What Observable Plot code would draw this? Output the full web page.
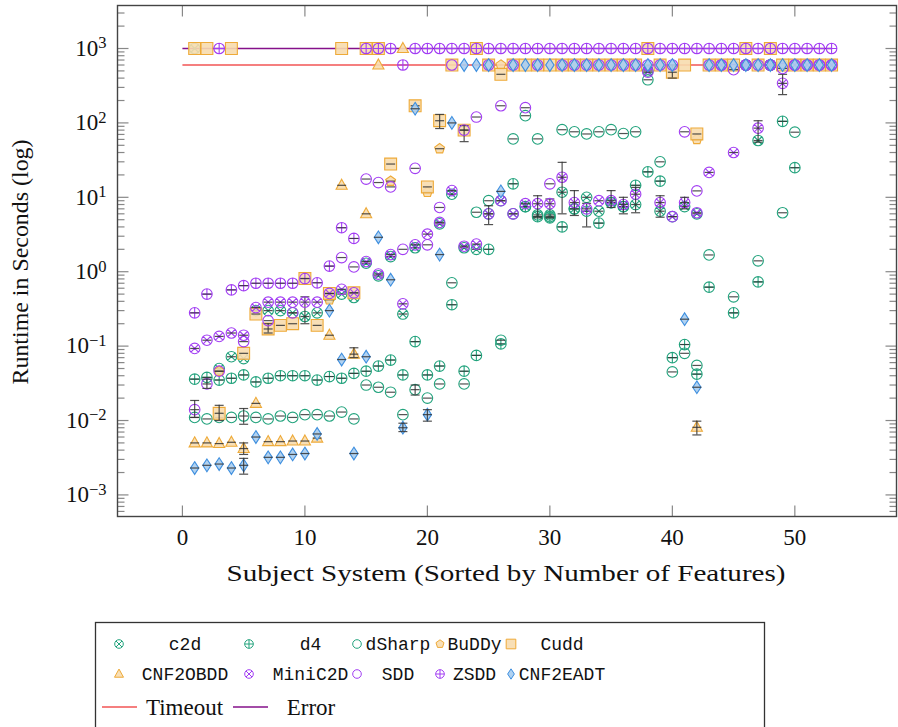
<!DOCTYPE html>
<html><head><meta charset="utf-8">
<script src="https://cdn.jsdelivr.net/npm/d3@7"></script>
<script src="https://cdn.jsdelivr.net/npm/@observablehq/plot@0.6"></script>
<style>
body{margin:0;background:#fff;}
#wrap{position:relative;width:898px;height:727px;overflow:hidden;background:#fff;}
</style></head><body><div id="wrap"></div>
<script>
// ---------------- data ----------------
const systems = [1,2,3,4,5,6,7,8,9,10,11,12,13,14,15,16,17,18,19,20,21,22,23,24,25,26,27,28,29,30,31,32,33,34,35,36,37,38,39,40,41,42,43,44,45,46,47,48,49,50,51,52,53];
const tools = ["c2d","d4","dSharp","BuDDy","Cudd","CNF2OBDD","MiniC2D","SDD","ZSDD","CNF2EADT"];

const c2d = [1000,null,0.05,0.072,0.068,0.30,0.30,0.30,0.28,0.25,
  0.28,0.45,0.50,0.45,1.3,0.88,1.6,0.27,2.1,null,
  4.4,11,2.1,2.0,6.0,9.0,6.0,7.5,5.8,5.8,
  11.7,7.0,10,6.5,8.5,7.5,8.0,500,6.5,5.5,
  7.5,6.0,600,600,600,600,58,600,600,600,
  600,600,600];
const d4 = [0.036,0.038,0.035,0.037,0.041,0.033,0.037,0.040,0.040,0.040,
  0.035,0.039,0.037,0.043,0.046,0.054,0.065,0.041,0.115,0.041,
  0.054,0.36,0.046,0.075,2.0,0.107,15.2,7.5,5.5,5.3,
  4.0,7.0,6.5,4.5,8.5,7.5,14.5,22,16.5,0.07,
  0.105,0.042,0.62,600,0.28,600,0.73,600,105,25,
  600,600,600];
const dSharp = [0.011,0.0105,0.011,0.011,0.0115,0.011,0.0105,0.0115,0.011,0.012,
  0.012,0.0115,0.013,0.0105,0.030,0.028,0.024,0.012,0.026,0.020,
  0.031,0.71,0.031,6.3,9.0,0.12,61,125,61,5.5,
  81,76,71,76,81,72,76,380,30,0.045,
  0.08,0.055,1.68,600,0.46,600,1.4,600,6.2,75,
  600,600,600];
const BuDDy = [null,null,0.046,null,null,null,null,null,null,null,
  null,0.42,null,null,null,null,16.5,null,null,11.7,
  45,null,null,null,null,600,null,null,null,null,
  null,null,null,null,null,null,null,null,null,null,
  null,60,null,null,null,null,null,null,null,null,
  null,null,null];
const Cudd = [1000,1000,0.0125,1000,0.08,0.27,0.17,0.19,0.2,0.81,
  0.19,0.51,1000,0.52,1000,1000,28,null,170,13.8,
  107,600,80,1000,600,450,600,600,600,600,
  600,600,600,600,600,600,600,1000,600,480,
  600,71,600,600,600,1000,600,1000,600,600,
  600,600,600];
const CNF2OBDD = [0.005,0.005,0.0049,0.0051,0.0042,0.017,0.0052,0.0052,0.0053,0.0053,
  0.0058,0.14,14.5,0.078,6.0,600,null,1000,null,null,
  null,null,null,null,null,null,null,null,null,null,
  null,null,null,null,null,null,null,null,null,null,
  null,0.0081,null,null,null,null,null,null,null,null,
  null,null,null];
const MiniC2D = [0.093,0.12,0.135,0.15,0.14,0.33,0.39,0.39,0.39,0.39,
  0.39,0.51,0.58,0.52,1.37,0.93,1.7,0.37,2.3,3.2,
  4.6,12.3,2.2,2.35,6.0,9.0,6.0,8.2,8.2,8.2,
  18.6,8.5,7.0,9.0,9.0,8.0,11.0,480,8.5,5.5,
  8.5,6.2,21.6,600,40,600,85,600,340,600,
  600,600,600];
const SDD = [0.014,0.031,0.046,null,0.115,null,0.22,null,0.28,null,
  null,null,1.55,1.16,17.6,15.8,13.8,2.0,24.5,2.3,
  7.3,600,80,120,600,170,600,160,600,15.2,
  600,600,600,600,600,600,600,600,600,600,
  76,12.2,600,600,520,600,600,600,540,600,
  600,600,600];
const ZSDD = [0.28,0.50,1000,0.57,0.65,0.70,0.70,0.70,0.70,0.81,
  0.71,1.19,3.9,2.8,1000,1000,1000,600,1000,1000,
  1000,1000,1000,1000,1000,1000,1000,1000,1000,1000,
  1000,1000,1000,1000,1000,1000,1000,1000,1000,1000,
  1000,1000,1000,1000,1000,1000,1000,1000,1000,1000,
  1000,1000,1000];
const CNF2EADT = [0.0023,0.0025,0.0026,0.0023,0.0025,0.0060,0.0032,0.0032,0.0035,0.0036,
  0.0066,0.30,0.066,0.0036,0.072,2.9,0.78,0.008,155,0.012,
  1.7,100,600,600,600,12,600,600,600,600,
  600,600,600,600,600,600,600,600,600,600,
  0.23,0.028,600,600,600,600,600,600,600,600,
  600,600,600];

const errorBars = [
  {tool:"MiniC2D", system:31, low:6.0, high:29.5},
  {tool:"MiniC2D", system:49, low:240, high:450},
  {tool:"MiniC2D", system:47, low:55, high:107},
  {tool:"CNF2OBDD", system:42, low:0.0064, high:0.0098},
  {tool:"Cudd", system:40, low:400, high:600},
  {tool:"Cudd", system:21, low:84, high:130},
  {tool:"Cudd", system:23, low:56, high:92},
  {tool:"CNF2EADT", system:5, low:0.0019, high:0.0031},
  {tool:"CNF2OBDD", system:5, low:0.0035, high:0.005},
  {tool:"SDD", system:1, low:0.011, high:0.0186},
  {tool:"SDD", system:2, low:0.027, high:0.036},
  {tool:"dSharp", system:5, low:0.0089, high:0.0145},
  {tool:"dSharp", system:19, low:0.022, high:0.030},
  {tool:"CNF2EADT", system:20, low:0.0098, high:0.014},
  {tool:"CNF2EADT", system:18, low:0.0071, high:0.0092},
  {tool:"c2d", system:10, low:0.2, high:0.46},
  {tool:"MiniC2D", system:29, low:5.3, high:10.5},
  {tool:"c2d", system:30, low:5.3, high:9.5},
  {tool:"MiniC2D", system:32, low:5.7, high:12.3},
  {tool:"c2d", system:33, low:4.0, high:8.3},
  {tool:"MiniC2D", system:35, low:7.3, high:12.3},
  {tool:"MiniC2D", system:36, low:6.0, high:10},
  {tool:"MiniC2D", system:37, low:6.2, high:13.6},
  {tool:"MiniC2D", system:39, low:5.4, high:10.5},
  {tool:"MiniC2D", system:41, low:7, high:10},
  {tool:"MiniC2D", system:25, low:4.3, high:7.7},
  {tool:"CNF2OBDD", system:14, low:0.07, high:0.095},
  {tool:"Cudd", system:3, low:0.010, high:0.016},
  {tool:"Cudd", system:7, low:0.15, high:0.2}
];

const limits = [
  {label:"Timeout", value:600, start:0, end:53},
  {label:"Error", value:1000, start:0, end:53}
];

const xTicks = [0,10,20,30,40,50];
const yTicks = [1e-3,1e-2,1e-1,1,10,100,1000];
const yTickExp = ["−3","−2","−1","0","1","2","3"];
const xLabel = "Subject System (Sorted by Number of Features)";
const yLabel = "Runtime in Seconds (log)";

// ---------------- styles ----------------
const GREEN = "#22a37d", PURPLE = "#a23df3", ORANGE = "#eeaa38", ORANGE_F = "#f7dcae",
      BLUE = "#3e8fdf", BLUE_F = "#a9cdef", RED = "#f25555", EPURPLE = "#85108a";

function circleSym(extra){
  return {draw(ctx, size){
    const r = Math.sqrt(size/Math.PI);
    ctx.moveTo(r,0); ctx.arc(0,0,r,0,2*Math.PI);
    if (extra === "plus"){ ctx.moveTo(-r,0); ctx.lineTo(r,0); ctx.moveTo(0,-r); ctx.lineTo(0,r); }
    if (extra === "times"){ const a = r*Math.SQRT1_2; ctx.moveTo(-a,-a); ctx.lineTo(a,a); ctx.moveTo(-a,a); ctx.lineTo(a,-a); }
  }};
}
const squareSym = {draw(ctx,size){ const s = Math.sqrt(size/Math.PI)*1.12; ctx.moveTo(-s,-s); ctx.lineTo(s,-s); ctx.lineTo(s,s); ctx.lineTo(-s,s); ctx.closePath(); }};
const triSym = {draw(ctx,size){ const r = Math.sqrt(size/Math.PI); ctx.moveTo(0,-r*1.15); ctx.lineTo(r*1.05,r*0.75); ctx.lineTo(-r*1.05,r*0.75); ctx.closePath(); }};
const diamondSym = {draw(ctx,size){ const r = Math.sqrt(size/Math.PI); ctx.moveTo(0,-r*1.2); ctx.lineTo(r*0.78,0); ctx.lineTo(0,r*1.2); ctx.lineTo(-r*0.78,0); ctx.closePath(); }};
const pentSym = {draw(ctx,size){ const r = Math.sqrt(size/Math.PI)*0.98; for(let i=0;i<5;i++){ const a = -Math.PI/2 + i*2*Math.PI/5; const px=r*Math.cos(a), py=r*Math.sin(a); if(i===0) ctx.moveTo(px,py); else ctx.lineTo(px,py);} ctx.closePath(); }};
const capSym = {draw(ctx){ ctx.moveTo(-4.5,0); ctx.lineTo(4.5,0); }};
const tickSym = (dx,dy) => ({draw(ctx){ ctx.moveTo(0,0); ctx.lineTo(dx,dy); }});

const style = {
  c2d:{sym:circleSym("times"), stroke:GREEN, fill:"none"},
  d4:{sym:circleSym("plus"), stroke:GREEN, fill:"none"},
  dSharp:{sym:circleSym(), stroke:GREEN, fill:"none"},
  BuDDy:{sym:pentSym, stroke:ORANGE, fill:ORANGE_F},
  Cudd:{sym:squareSym, stroke:ORANGE, fill:ORANGE_F},
  CNF2OBDD:{sym:triSym, stroke:ORANGE, fill:ORANGE_F},
  MiniC2D:{sym:circleSym("times"), stroke:PURPLE, fill:"none"},
  SDD:{sym:circleSym(), stroke:PURPLE, fill:"none"},
  ZSDD:{sym:circleSym("plus"), stroke:PURPLE, fill:"none"},
  CNF2EADT:{sym:diamondSym, stroke:BLUE, fill:BLUE_F}
};
const valuesOf = {c2d, d4, dSharp, BuDDy, Cudd, CNF2OBDD, MiniC2D, SDD, ZSDD, CNF2EADT};

const xDomain = [-5.3, 58.3];
const yDomain = [Math.pow(10,-3.29), Math.pow(10,3.578)];

// minor log ticks
const yMinor = [];
for (let e = -4; e <= 3; e++) for (let m = 2; m <= 9; m++) { const v = m*Math.pow(10,e); if (v > yDomain[0] && v < yDomain[1]) yMinor.push(v); }

const marks = [];
marks.push(Plot.link(limits.filter(d=>d.label==="Timeout"), {x1:"start", x2:"end", y1:"value", y2:"value", stroke:RED, strokeWidth:1.6}));
marks.push(Plot.link(limits.filter(d=>d.label==="Error"), {x1:"start", x2:"end", y1:"value", y2:"value", stroke:EPURPLE, strokeWidth:1.3}));

for (const t of tools) {
  const rows = systems.map((s,i)=>({system:s, value:valuesOf[t][i]})).filter(d=>d.value!=null);
  const st = style[t];
  marks.push(Plot.dot(rows, {x:"system", y:"value", symbol:st.sym, r:5.3, stroke:st.stroke, fill:st.fill, fillOpacity:0.9, strokeWidth:1.1}));
  marks.push(Plot.dot(rows.filter(d=>d.value<590), {x:"system", y:"value", symbol:capSym, stroke:"#333", strokeWidth:1.2, fill:"none", strokeOpacity:0.85}));
  const eb = errorBars.filter(d=>d.tool===t);
  marks.push(Plot.ruleX(eb, {x:"system", y1:"low", y2:"high", stroke:"#333", strokeWidth:1.2, strokeOpacity:0.85}));
  marks.push(Plot.dot(eb, {x:"system", y:"low", symbol:capSym, stroke:"#333", strokeWidth:1.2, fill:"none", strokeOpacity:0.85}));
  marks.push(Plot.dot(eb, {x:"system", y:"high", symbol:capSym, stroke:"#333", strokeWidth:1.2, fill:"none", strokeOpacity:0.85}));
}

// inward ticks
const tk = {fill:"none", stroke:"#888", strokeWidth:1.2};
marks.push(Plot.dot(xTicks, {x:d=>d, y:()=>yDomain[0], symbol:tickSym(0,-11), ...tk}));
marks.push(Plot.dot(xTicks, {x:d=>d, y:()=>yDomain[1], symbol:tickSym(0,11), ...tk}));
marks.push(Plot.dot(yTicks, {x:()=>xDomain[0], y:d=>d, symbol:tickSym(11,0), ...tk}));
marks.push(Plot.dot(yTicks, {x:()=>xDomain[1], y:d=>d, symbol:tickSym(-11,0), ...tk}));
marks.push(Plot.dot(yMinor, {x:()=>xDomain[0], y:d=>d, symbol:tickSym(7,0), ...tk}));
marks.push(Plot.dot(yMinor, {x:()=>xDomain[1], y:d=>d, symbol:tickSym(-7,0), ...tk}));

// tick labels
marks.push(Plot.text(xTicks, {x:d=>d, y:()=>yDomain[0], text:d=>String(d), dy:21, fontSize:23, fill:"#111"}));
marks.push(Plot.text(yTicks, {x:()=>xDomain[0], y:d=>d, text:(d,i)=>"10^"+yTickExp[i], dx:-11, textAnchor:"end", fontSize:23, fill:"#111"}));
marks.push(Plot.frame({stroke:"#444", strokeWidth:1.4}));

const chart = Plot.plot({
  width:898, height:600,
  marginLeft:117, marginRight:2, marginTop:5, marginBottom:84,
  style:{fontFamily:"'Liberation Serif', serif", background:"white", overflow:"visible"},
  x:{domain:xDomain, axis:null},
  y:{type:"log", domain:yDomain, axis:null},
  marks
});
chart.style.position = "absolute"; chart.style.left = "0px"; chart.style.top = "0px";
const wrap = document.getElementById("wrap");
wrap.appendChild(chart);

const svg = d3.select(chart);
svg.selectAll("text").each(function(){
  const m = /^10\^(.+)$/.exec(this.textContent);
  if (m) { const s = d3.select(this); s.text(""); s.append("tspan").text("10"); s.append("tspan").attr("dy","-0.45em").attr("font-size","0.72em").text(m[1]); }
});
svg.append("text").attr("x",506).attr("y",581).attr("text-anchor","middle")
  .attr("font-family","'Liberation Serif', serif").attr("font-size",24).attr("fill","#111")
  .attr("textLength",559).attr("lengthAdjust","spacingAndGlyphs").text(xLabel);
svg.append("text").attr("transform","translate(28,262) rotate(-90)").attr("text-anchor","middle")
  .attr("font-family","'Liberation Serif', serif").attr("font-size",24).attr("fill","#111")
  .attr("textLength",245).attr("lengthAdjust","spacingAndGlyphs").text(yLabel);

// ---------------- legend ----------------
const OY = 600;
const leg = d3.select(wrap).append("svg").attr("width",898).attr("height",127)
  .style("position","absolute").style("left","0px").style("top",OY+"px");
leg.append("rect").attr("x",95.5).attr("y",622.5-OY).attr("width",669).attr("height",130)
  .attr("fill","white").attr("stroke","#333").attr("stroke-width",1.3);
const colMarker = [119,249,357,440,511];
const colText = [185,310.5,398,474.5,562];
const rowY = [644,674];
function symPath(sym, r){ const p = d3.path(); sym.draw(p, Math.PI*r*r); return p.toString(); }
tools.forEach((t,i)=>{
  const row = Math.floor(i/5), col = i%5, st = style[t];
  const cy = rowY[row]-OY;
  leg.append("path").attr("d", symPath(st.sym, 4.3)).attr("transform",`translate(${colMarker[col]},${cy})`)
    .attr("fill", st.fill).attr("fill-opacity",0.9).attr("stroke", st.stroke).attr("stroke-width",1);
  leg.append("text").attr("x", colText[col]).attr("y", cy).attr("dy","0.35em").attr("text-anchor","middle")
    .attr("font-family","'Liberation Mono', monospace").attr("font-size",18).attr("fill","#111").text(t);
});
const lineRowY = 707-OY;
[{x1:102,x2:137,c:RED,tx:184.5,label:limits[0].label},{x1:233,x2:268,c:EPURPLE,tx:311,label:limits[1].label}].forEach(d=>{
  leg.append("line").attr("x1",d.x1).attr("x2",d.x2).attr("y1",lineRowY).attr("y2",lineRowY).attr("stroke",d.c).attr("stroke-width",1.3);
  leg.append("text").attr("x",d.tx).attr("y",lineRowY).attr("dy","0.35em").attr("text-anchor","middle")
    .attr("font-family","'Liberation Serif', serif").attr("font-size",23).attr("fill","#111").text(d.label);
});
</script></body></html>
